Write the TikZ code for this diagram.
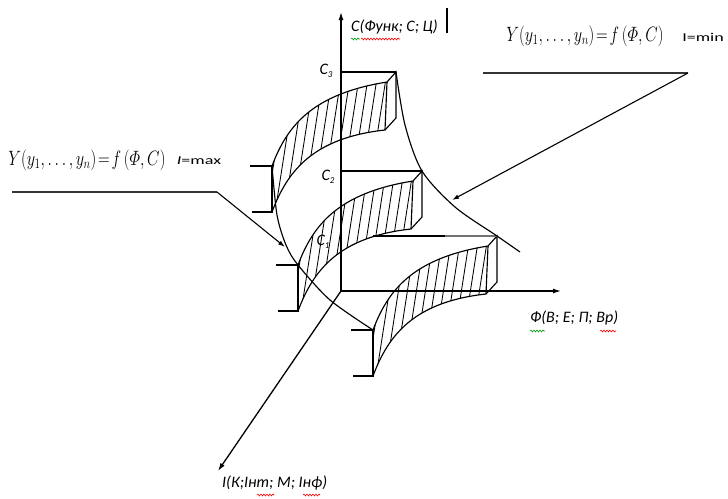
\documentclass[tikz,border=0pt]{standalone}
\usepackage{amsmath}
\usepackage{graphicx}
\usepackage{fontspec}
\newfontfamily\calib{Carlito}
\usetikzlibrary{arrows.meta,decorations.pathmorphing}
\tikzset{
  ln/.style={line width=1.15pt},
  hatchline/.style={line width=0.85pt},
  axis/.style={line width=1.3pt,-{Latex[length=8pt,width=5pt]}},
  ptr/.style={line width=1.1pt,-{Latex[length=7pt,width=4.5pt]}},
  uline/.style={line width=1.9pt,draw=black!80},
  axlabel/.style={font=\calib\itshape\fontsize{16}{18}\selectfont,inner sep=0pt},
  clabel/.style={font=\calib\itshape\fontsize{16}{18}\selectfont,inner sep=0pt},
  formula/.style={font=\fontsize{22}{25}\selectfont,inner sep=0pt},
  ilabel/.style={font=\calib\fontsize{12}{14}\selectfont,inner sep=0pt},
  squig/.style={decorate,decoration={snake,amplitude=0.9pt,segment length=3pt},line width=0.6pt}
}
\newcommand\bandshape[2]{%
  \begin{scope}[shift={#1}]
    \draw[ln] (-22,0) -- (0,0) -- (0,46) -- (-20,46);
    \draw[ln] (0,0) .. controls (15,-40) and (40,-72) .. (115,-84) -- (124,-94)
      -- (124,-48) -- (113,-36) .. controls (40,-28) and (15,6) .. (0,46);
    \draw[ln] (115,-84) -- (113,-36);
    \coordinate (#2) at (124,-94);
    \begin{scope}
      \clip (0,0) .. controls (15,-40) and (40,-72) .. (115,-84) -- (113,-36)
        .. controls (40,-28) and (15,6) .. (0,46) -- cycle;
      \foreach \a in {-26,-17,...,118} \draw[hatchline] (\a,60) -- ({\a+28},-120);
    \end{scope}
  \end{scope}}
\newcommand\yformula{\scalebox{0.78}[1]{$Y\!\left(y_{1},\ldots,y_{n}\right)\!=\!f\left(\varPhi,C\right)$}}
\begin{document}
\begin{tikzpicture}[x=1pt,y=-1pt]
\useasboundingbox (0,0) rectangle (728,498);
% axes
\coordinate (O) at (341,291);
\coordinate (Ctip) at (341,12);
\coordinate (Ftip) at (561,291);
\coordinate (Itip) at (218,471);
\draw[axis] (O) -- (Ctip);
\draw[axis] (O) -- (Ftip);
\draw[axis] (O) -- (Itip);
\node[axlabel,anchor=west] (clab) at (351,27) {С(Функ; С; Ц)};
\coordinate (bar1) at (447,8);
\coordinate (bar2) at (447,33);
\draw[line width=2.6pt] (bar1) -- (bar2);
\node[axlabel,anchor=west] (flab) at (530,318) {Ф(В; Е; П; Вр)};
\node[axlabel,anchor=west] (ilab) at (222,483) {I(К;Iнт; М; Iнф)};
% spell-check marks
\draw[squig,green!60!black] (351,39) -- (360,39);
\draw[squig,red] (361,39) -- (400,39);
\draw[squig,green!60!black] (530,331) -- (545,331);
\draw[squig,red] (600,331) -- (616,331);
\draw[squig,red] (257,495) -- (274,495);
\draw[squig,red] (303,495) -- (320,495);
% bands
\bandshape{(272,166)}{k3}
\bandshape{(298,265)}{k2}
\bandshape{(373,330)}{k1}
% C levels
\coordinate (c3a) at (341,72);
\coordinate (c2a) at (341,171);
\coordinate (c1a) at (373,236);
\coordinate (c1g) at (445,236);
\draw[ln] (c3a) -- (k3);
\draw[ln] (c2a) -- (k2);
\draw[ln] (c1a) -- (c1g);
\draw[ln,black!55] (c1g) -- (k1);
\node[clabel] (C3) at (326,71) {C\raisebox{-3pt}{\fontsize{9}{10}\selectfont 3}};
\node[clabel] (C2) at (328,177) {C\raisebox{-3pt}{\fontsize{9}{10}\selectfont 2}};
\node[clabel] (C1) at (323,242) {C\raisebox{-3pt}{\fontsize{9}{10}\selectfont 1}};
% I = min curve
\draw[ln] plot[smooth] coordinates {(396,72) (405,125) (422,171) (455,207) (497,236) (520,252)};
% I = max curve
\draw[ln] plot[smooth] coordinates {(272,166) (277,215) (286,245) (298,265) (330,300) (373,330)};
\coordinate (minpt) at (452,200);
\coordinate (maxpt) at (285,247);
% formulas
\node[formula] (fmin) at (585,36) {\yformula};
\node[ilabel] (imin) at (703,37) {\scalebox{1.5}[1]{I=min}};
\coordinate (ul1) at (483,73);
\coordinate (ul2) at (688,73);
\draw[uline] (ul1) -- (ul2);
\draw[ptr] (ul2) -- (minpt);
\node[formula] (fmax) at (87,160) {\yformula};
\node[ilabel] (imax) at (199,161) {\scalebox{1.5}[1]{\itshape I\upshape=max}};
\coordinate (ul3) at (12,192);
\coordinate (ul4) at (217,192);
\draw[uline] (ul3) -- (ul4);
\draw[ptr] (ul4) -- (maxpt);
\end{tikzpicture}
\end{document}
